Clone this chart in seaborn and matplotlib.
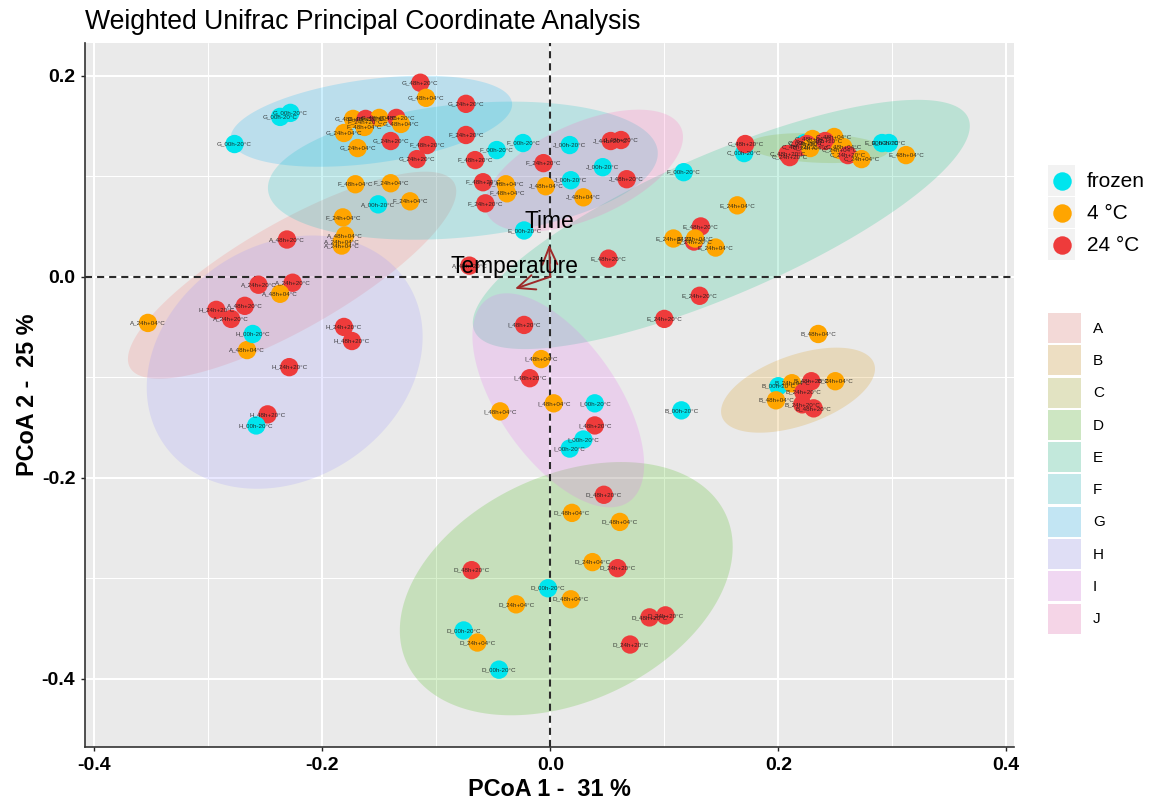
import numpy as np
import pandas as pd
import matplotlib
matplotlib.use("Agg")
import matplotlib.pyplot as plt
from matplotlib.lines import Line2D
from matplotlib.patches import Patch, Rectangle
from matplotlib.legend_handler import HandlerBase
from matplotlib.ticker import MultipleLocator
import seaborn as sns

# ---------- data ----------
labels_G = ["G_48h+20°C","G_48h+04°C","G_24h+20°C","G_00h-20°C","G_00h-20°C","G_00h-20°C","G_48h+04°C","G_48h+20°C","G_48h+04°C","G_48h+20°C","G_48h+04°C","G_24h+04°C","G_24h+04°C","G_24h+20°C","G_24h+20°C"]
x_G = [-.114,-.109,-.074,-.228,-.237,-.277,-.173,-.162,-.150,-.135,-.131,-.181,-.169,-.140,-.117]
y_G = [.193,.178,.172,.163,.159,.132,.157,.157,.158,.158,.152,.143,.128,.135,.117]

labels_F = ["F_24h+20°C","F_48h+04°C","F_48h+20°C","F_24h+20°C","F_00h-20°C","F_00h-20°C","F_48h+20°C","F_24h+20°C","F_48h+20°C","F_48h+04°C","F_48h+04°C","F_24h+20°C","F_48h+04°C","F_24h+04°C","F_24h+04°C","F_24h+04°C","F_00h-20°C"]
x_F = [-.162,-.163,-.108,-.074,-.024,-.047,-.066,-.006,-.059,-.039,-.038,-.057,-.171,-.140,-.123,-.182,.117]
y_F = [.154,.149,.131,.141,.133,.126,.116,.113,.094,.092,.083,.073,.092,.093,.075,.059,.104]

labels_J = ["J_48h+04°C","J_00h-20°C","J_00h-20°C","J_00h-20°C","J_44h+20°C","J_48h+20°C","J_48h+20°C","J_48h+04°C"]
x_J = [-.004,.017,.046,.018,.053,.062,.067,.029]
y_J = [.090,.131,.109,.096,.135,.136,.097,.079]

labels_A = ["A_00h-20°C","A_48h+04°C","A_24h+04°C","A_24h+04°C","A_48h+20°C","A_48h+20°C","A_24h+20°C","A_24h+20°C","A_48h+04°C","A_48h+20°C","A_24h+20°C","A_24h+04°C","A_48h+04°C"]
x_A = [-.151,-.180,-.183,-.183,-.231,-.071,-.256,-.226,-.237,-.268,-.280,-.353,-.266]
y_A = [.072,.041,.035,.031,.037,.011,-.008,-.006,-.017,-.029,-.042,-.046,-.073]

labels_H = ["H_24h+20°C","H_00h-20°C","H_24h+20°C","H_48h+20°C","H_24h+20°C","H_48h+20°C","H_00h-20°C"]
x_H = [-.293,-.261,-.181,-.174,-.229,-.248,-.258]
y_H = [-.033,-.057,-.050,-.064,-.090,-.137,-.148]

labels_E = ["E_00h-20°C","E_24h+04°C","E_48h+20°C","E_24h+20°C","E_24h+04°C","E_24h+04°C","E_24h+04°C","E_48h+20°C","E_24h+20°C","E_24h+20°C","E_00h-20°C","E_00h-20°C","E_48h+04°C"]
x_E = [-.023,.164,.132,.126,.108,.127,.145,.051,.131,.100,.291,.297,.312]
y_E = [.046,.071,.050,.035,.038,.038,.029,.018,-.019,-.042,.133,.133,.121]

labels_C = ["C_00h-20°C","C_48h+20°C","C_00h-20°C","C_48h+04°C","C_48h+04°C","C_48h+20°C","C_24h+20°C","C_48h+20°C","C_24h+20°C","C_24h+04°C","C_48h+20°C","C_48h+04°C","C_24h+04°C","C_24h+20°C","C_24h+04°C"]
x_C = [.170,.171,.223,.230,.249,.208,.210,.219,.225,.228,.241,.257,.254,.261,.273]
y_C = [.123,.132,.133,.137,.139,.122,.119,.129,.132,.128,.135,.129,.126,.121,.117]

labels_I = ["I_48h+20°C","I_48h+04°C","I_48h+20°C","I_48h+04°C","I_48h+04°C","I_00h-20°C","I_48h+20°C","I_00h-20°C","I_00h-20°C"]
x_I = [-.023,-.008,-.018,-.044,.003,.039,.039,.029,.017]
y_I = [-.048,-.082,-.101,-.134,-.126,-.126,-.148,-.162,-.171]

labels_B = ["B_00h-20°C","B_48h+04°C","B_00h-20°C","B_24h+04°C","B_48h+20°C","B_24h+04°C","B_24h+20°C","B_48h+04°C","B_24h+20°C","B_48h+20°C"]
x_B = [.115,.235,.200,.212,.229,.250,.222,.198,.221,.231]
y_B = [-.133,-.057,-.109,-.106,-.104,-.104,-.115,-.123,-.127,-.131]

labels_D = ["D_48h+20°C","D_48h+04°C","D_48h+04°C","D_24h+04°C","D_24h+20°C","D_48h+20°C","D_00h-20°C","D_48h+04°C","D_24h+04°C","D_48h+20°C","D_24h+20°C","D_24h+20°C","D_00h-20°C","D_24h+04°C","D_00h-20°C"]
x_D = [.047,.019,.061,.037,.059,-.069,-.002,.018,-.030,.087,.101,.070,-.076,-.064,-.045]
y_D = [-.217,-.235,-.244,-.284,-.290,-.292,-.310,-.321,-.326,-.339,-.337,-.366,-.352,-.364,-.391]

# ellipse per group: centre, half extents, correlation
groups = ["A","B","C","D","E","F","G","H","I","J"]
group_colors = ["#F8766D","#D89000","#A3A500","#39B600","#00BF7D","#00BFC4","#00B0F6","#9590FF","#E76BF3","#FF62BC"]
ell_cx = [-.2265,.2173,.2348,.014,.150,-.0767,-.157,-.233,.007,.0296]
ell_cy = [.0015,-.1129,.128,-.3104,.052,.1055,.1547,-.085,-.123,.1055]
ell_sx = [.144,.0675,.0614,.146,.218,.171,.1235,.121,.0753,.0868]
ell_sy = [.103,.0423,.0149,.126,.124,.0687,.0453,.126,.1065,.0607]
ell_r = [.81,.5,-.2,.33,.79,.25,.37,.2,-.6,.55]

temp_names = ["frozen","4 °C","24 °C"]
temp_colors = ["#00E5EE","#FFA500","#EE3B3B"]
x_ticks = [-.4,-.2,0,.2,.4]
y_ticks = [-.4,-.2,0,.2]
x_tick_labels = ["-0.4","-0.2","0.0","0.2","0.4"]
y_tick_labels = ["-0.4","-0.2","0.0","0.2"]

arrow_names = ["Time","Temperature"]
arrow_x = [-.001,-.031]
arrow_y = [.032,-.012]
arrow_label_x = [-.001,-.031]
arrow_label_y = [.055,.0100]

# ---------- table ----------
labels = labels_G+labels_F+labels_J+labels_A+labels_H+labels_E+labels_C+labels_I+labels_B+labels_D
pc1 = x_G+x_F+x_J+x_A+x_H+x_E+x_C+x_I+x_B+x_D
pc2 = y_G+y_F+y_J+y_A+y_H+y_E+y_C+y_I+y_B+y_D
def temp_of(lab):
    return "frozen" if "-20" in lab else ("4 °C" if "+04" in lab else "24 °C")
df = pd.DataFrame({"label":labels,"pc1":pc1,"pc2":pc2,"temp":[temp_of(l) for l in labels]})

# ---------- figure ----------
sns.set_theme(style="white")
plt.rcParams["font.family"] = ["Liberation Sans","DejaVu Sans"]
PANEL = "#EAEAEA"
W, H = 1160, 799
fig = plt.figure(figsize=(W/100, H/100), dpi=100, facecolor="white")
L, R, T, B = 85.3, 1014, 43, 746.7
ax = fig.add_axes([L/W, (H-B)/H, (R-L)/W, (B-T)/H])
ax.set_facecolor(PANEL)

t = np.linspace(0, 2*np.pi, 240)
for g, c, cx, cy, sx, sy, r in zip(groups, group_colors, ell_cx, ell_cy, ell_sx, ell_sy, ell_r):
    phi = np.arccos(r)
    ax.fill(cx+sx*np.cos(t), cy+sy*np.cos(t-phi), color=c, alpha=.2, lw=0, zorder=2)

ax.axhline(0, color="#2b2b2b", lw=1.5, ls=(0,(3.4,2.4)), zorder=2.5)
ax.axvline(0, color="#2b2b2b", lw=1.5, ls=(0,(3.4,2.4)), zorder=2.5)

sns.scatterplot(data=df, x="pc1", y="pc2", hue="temp", hue_order=temp_names,
                palette=temp_colors, s=175, linewidth=0, alpha=1, legend=False,
                ax=ax, zorder=3)
for lab, xx, yy in zip(labels, pc1, pc2):
    ax.text(xx, yy, lab, fontsize=4.5, ha="center", va="center", color="#1a1a1a",
            alpha=.85, zorder=4)

for name, ax_, ay_, lx, ly in zip(arrow_names, arrow_x, arrow_y, arrow_label_x, arrow_label_y):
    ax.annotate("", xy=(ax_, ay_), xytext=(0, 0), zorder=5,
                arrowprops=dict(arrowstyle="->,head_length=1.05,head_width=0.45",
                                color="#9E2A2A", lw=1.4, shrinkA=0, shrinkB=0))
    ax.text(lx, ly, name, fontsize=16.4, ha="center", va="center", color="black", zorder=6)

ax.set_xlim((L-550.3)/1140, (R-550.3)/1140)
ax.set_ylim((276.7-B)/1005, (276.7-T)/1005)
ax.set_xticks(x_ticks, x_tick_labels)
ax.set_yticks(y_ticks, y_tick_labels)
ax.xaxis.set_minor_locator(MultipleLocator(.1))
ax.yaxis.set_minor_locator(MultipleLocator(.1))
ax.grid(which="major", color="white", lw=1.5, zorder=1)
ax.grid(which="minor", color="white", lw=.75, zorder=1)
ax.set_axisbelow(True)
ax.tick_params(which="minor", length=0)
ax.tick_params(which="major", length=3.2, width=1, color="#222222", labelsize=14, pad=4, bottom=True, left=True)
for lab in ax.get_xticklabels()+ax.get_yticklabels():
    lab.set_fontweight("bold"); lab.set_color("black")
for s in ["top","right"]:
    ax.spines[s].set_visible(False)
for s in ["left","bottom"]:
    ax.spines[s].set_color("#333333"); ax.spines[s].set_linewidth(1.2)

ax.set_xlabel("PCoA 1 -  31 %", fontsize=16.8, fontweight="bold", color="black", labelpad=3)
ax.set_ylabel("PCoA 2 -  25 %", fontsize=16.8, fontweight="bold", color="black", labelpad=2)
ax.set_title("Weighted Unifrac Principal Coordinate Analysis", loc="left", fontsize=19.2, color="black", pad=10)

# ---------- legends ----------
class KeyHandler(HandlerBase):
    def create_artists(self, legend, h, xd, yd, w, hh, fs, trans):
        if isinstance(h, Line2D):
            rect = Rectangle((-xd, -yd), w, hh, fc="#F2F2F2", ec="none", transform=trans)
            dot = Line2D([-xd+w/2], [-yd+hh/2], marker="o", ms=h.get_markersize(),
                         mfc=h.get_markerfacecolor(), mec="none", ls="", transform=trans)
            return [rect, dot]
        return [Rectangle((-xd, -yd), w, hh, fc=h.get_facecolor(), ec="none", transform=trans)]

def key_height(px, fs_px):
    # legend box height = fs*(0.65*hh + 0.245)
    return (px/fs_px - .245)/.65

def blend(c, a=.2, bg="#F2F2F2"):
    c, bg = np.array(matplotlib.colors.to_rgb(c)), np.array(matplotlib.colors.to_rgb(bg))
    return tuple(a*c+(1-a)*bg)

temp_handles = [Line2D([],[],marker="o",ms=13.3,mfc=c,mec="none",ls="") for c in temp_colors]
fs1 = 15; fp1 = fs1*100/72
leg1 = fig.legend(temp_handles, temp_names, loc="upper left", bbox_to_anchor=(1048/W, (H-165)/H),
                  frameon=False, fontsize=fs1, borderpad=0, borderaxespad=0, labelspacing=1/fp1,
                  handlelength=27/fp1, handleheight=key_height(31, fp1), handletextpad=.58,
                  labelcolor="black", handler_map={Line2D: KeyHandler()})
group_handles = [Patch(fc=blend(c)) for c in group_colors]
fs2 = 11; fp2 = fs2*100/72
leg2 = fig.legend(group_handles, groups, loc="upper left", bbox_to_anchor=(1048/W, (H-313)/H),
                  frameon=False, fontsize=fs2, borderpad=0, borderaxespad=0, labelspacing=2.3/fp2,
                  handlelength=33/fp2, handleheight=key_height(30, fp2), handletextpad=.79,
                  labelcolor="black", handler_map={Patch: KeyHandler()})
fig.savefig("out.png", dpi=100, facecolor="white")
